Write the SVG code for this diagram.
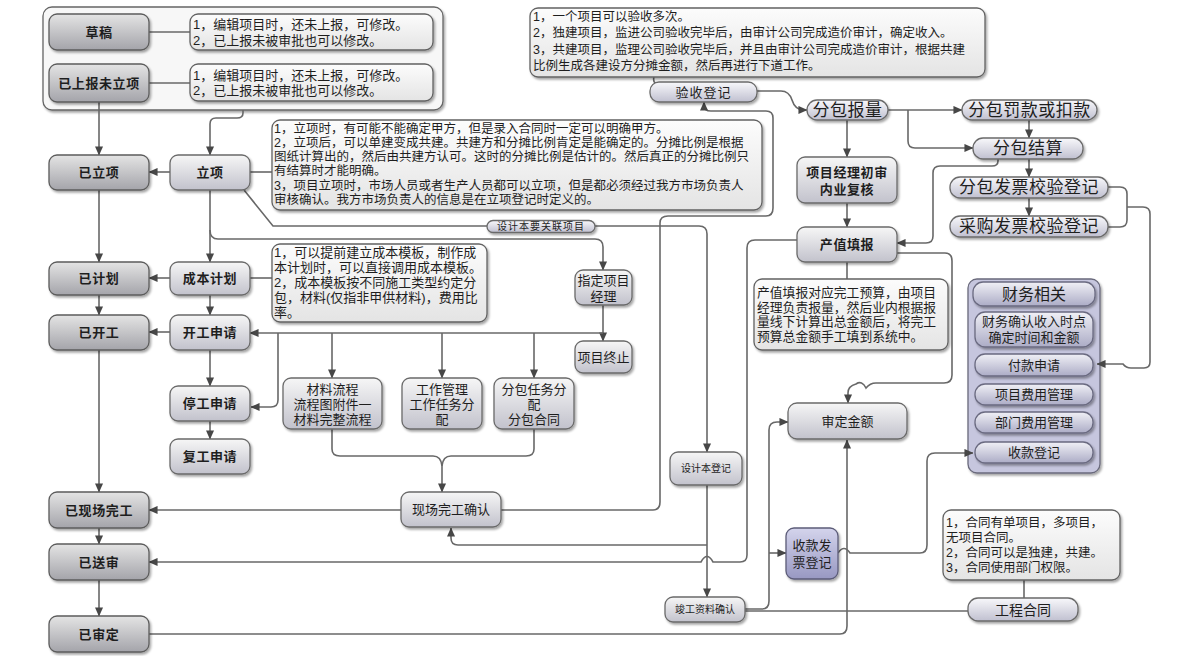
<svg xmlns="http://www.w3.org/2000/svg" width="1200" height="656" viewBox="0 0 1200 656">
<defs>
<linearGradient id="gDark" x1="0" y1="0" x2="0" y2="1"><stop offset="0" stop-color="#e4e4e4"/><stop offset="1" stop-color="#a4a4aa"/></linearGradient>
<linearGradient id="gMid" x1="0" y1="0" x2="0" y2="1"><stop offset="0" stop-color="#f6f6f6"/><stop offset="1" stop-color="#c2c2cc"/></linearGradient>
<linearGradient id="gNote" x1="0" y1="0" x2="0" y2="1"><stop offset="0" stop-color="#fcfcfc"/><stop offset="1" stop-color="#e4e4e4"/></linearGradient>
<linearGradient id="gPill" x1="0" y1="0" x2="0" y2="1"><stop offset="0" stop-color="#f8f8fb"/><stop offset="1" stop-color="#c0c0d0"/></linearGradient>
<linearGradient id="gFin" x1="0" y1="0" x2="0" y2="1"><stop offset="0" stop-color="#f0f0f6"/><stop offset="1" stop-color="#acacc6"/></linearGradient>
<linearGradient id="gBlue" x1="0" y1="0" x2="0" y2="1"><stop offset="0" stop-color="#d4d4ec"/><stop offset="1" stop-color="#9898c2"/></linearGradient>
<filter id="sh" x="-10%" y="-10%" width="130%" height="150%"><feDropShadow dx="1.5" dy="2" stdDeviation="1.2" flood-color="#000" flood-opacity="0.35"/></filter>
<marker id="ar" viewBox="0 0 10 10" refX="9.5" refY="5" markerWidth="9" markerHeight="9" markerUnits="userSpaceOnUse" orient="auto"><path d="M0,0.5 L10,5 L0,9.5 z" fill="#474747"/></marker>
</defs>
<style>
text{font-family:"Liberation Sans","Noto Sans CJK SC",sans-serif;fill:#1e1e1e}
.dk{fill:url(#gDark);stroke:#5c5c5c;stroke-width:1.3;filter:url(#sh)}
.md{fill:url(#gMid);stroke:#6a6a6a;stroke-width:1.3;filter:url(#sh)}
.nt{fill:url(#gNote);stroke:#626262;stroke-width:1.3;filter:url(#sh)}
.pl{fill:url(#gPill);stroke:#6a6a6a;stroke-width:1.3;filter:url(#sh)}
.fn{fill:url(#gFin);stroke:#6a6a80;stroke-width:1.3;filter:url(#sh)}
.bl{fill:url(#gBlue);stroke:#5c5c78;stroke-width:1.3;filter:url(#sh)}
.ct{fill:#c6c6de;stroke:#6a6a7c;stroke-width:1.3;filter:url(#sh)}
.cw{fill:#f7f7f7;stroke:#666;stroke-width:1.3;filter:url(#sh)}
.b{font-size:13px;font-weight:bold;text-anchor:middle;dominant-baseline:central;letter-spacing:0.6px}
.m{font-size:13px;text-anchor:middle;dominant-baseline:central}
.big{font-size:17px;text-anchor:middle;dominant-baseline:central;letter-spacing:0.5px}
.s{font-size:10px;text-anchor:middle;dominant-baseline:central}
.n{font-size:12.5px}
#connectors path{fill:none;stroke:#686868;stroke-width:1.6}
.a{marker-end:url(#ar)}
</style>
<rect width="1200" height="656" fill="#ffffff"/>

<g id="container-draft"><rect class="cw" x="43" y="7" width="400" height="103" rx="9"/></g>
<g id="container-finance"><rect class="ct" x="968" y="279" width="132" height="194" rx="9"/></g>

<g id="connectors">
<path d="M149,32 L190,32"/>
<path d="M149,83 L190,83"/>
<path class="a" d="M99,102 L99,155"/>
<path class="a" d="M243,110 L243,113 Q243,118 237,118 L216,118 Q210,118 210,124 L210,155"/>
<path class="a" d="M170,172 L149,172"/>
<path d="M250,172 L272,172"/>
<path class="a" d="M210,190 L210,262"/>
<path class="a" d="M210,230 Q210,239 218,239 L595,239 Q603,239 603,247 L603,270"/>
<path d="M244,190 L273,226 L487,226"/>
<path class="a" d="M595,226 L699,226 Q707,226 707,234 L707,452"/>
<path class="a" d="M99,190 L99,262"/>
<path class="a" d="M170,278 L149,278"/>
<path d="M250,278 L272,278"/>
<path class="a" d="M99,295 L99,315"/>
<path class="a" d="M210,295 L210,315"/>
<path class="a" d="M603,305 L603,341"/>
<path class="a" d="M603,333 L250,333"/>
<path class="a" d="M332,333 L332,378"/>
<path class="a" d="M442,333 L442,378"/>
<path class="a" d="M534,333 L534,378"/>
<path class="a" d="M278,333 L278,400 Q278,407 271,407 L251,407"/>
<path class="a" d="M170,332 L149,332"/>
<path class="a" d="M210,350 L210,386"/>
<path class="a" d="M210,421 L210,439"/>
<path class="a" d="M99,350 L99,492"/>
<path d="M332,429 L332,449 Q332,456 340,456 L433,456 Q441,456 442,466"/>
<path class="a" d="M534,429 L534,449 Q534,456 526,456 L451,456 Q443,456 442,466 L442,492"/>
<path class="a" d="M401,510 L149,510"/>
<path class="a" d="M501,510 L653,510 Q660,510 660,502 L660,223 Q660,216 668,216 L766,216 Q773,216 773,208 L773,118 Q773,111 766,111 L711,111 Q704,111 704,106 L704,102"/>
<path class="a" d="M707,485 L707,597"/>
<path class="a" d="M707,545 L458,545 Q451,545 451,538 L451,528"/>
<path class="a" d="M797,240 L755,240 Q747,240 747,248 L747,555 Q747,562 740,562 L713,562 Q707,551 701,562 L149,562"/>
<path class="a" d="M745,609 L762,609 Q769,609 769,601 L769,430 Q769,422 777,422 L788,422"/>
<path class="a" d="M769,553 L786,553"/>
<path d="M745,611 L968,611"/>
<path d="M1024,598 L1024,580"/>
<path class="a" d="M149,634 L840,634 Q847,634 847,626 L847,440"/>
<path class="a" d="M838,553 Q844,544 850,553 L920,553 Q927,553 927,545 L927,461 Q927,453 935,453 L973,453"/>
<path class="a" d="M897,253 L945,253 Q952,253 952,261 L952,375 Q952,383 944,383 L876,383 Q870,383 866,388 Q862,380 856,384 Q848,386 848,393 L848,403"/>
<path d="M847,262 L847,279"/>
<path class="a" d="M998,159 L998,161 Q998,166 992,166 L940,166 Q933,166 933,173 L933,236 Q933,243 926,243 L897,243"/>
<path class="a" d="M888,110 L962,110"/>
<path class="a" d="M908,110 L908,141 Q908,148 915,148 L973,148"/>
<path class="a" d="M847,120 L847,157"/>
<path class="a" d="M847,203 L847,227"/>
<path class="a" d="M1029,120 L1029,138"/>
<path class="a" d="M1029,159 L1029,177"/>
<path class="a" d="M1029,198 L1029,216"/>
<path d="M1108,187 L1120,187 Q1127,187 1127,194 L1127,220 Q1127,227 1120,227 L1108,227"/>
<path class="a" d="M1127,207 L1143,207 Q1150,207 1150,214 L1150,362 Q1150,368 1144,368 L1131,368 Q1126,368 1123,364 L1097,364"/>
<path class="a" d="M757,91 L781,91 Q789,91 792,100 Q795,110 804,110 L807,110"/>
<path d="M654,77 Q652,82 658,85"/>
<path class="a" d="M99,528 L99,544"/>
<path class="a" d="M99,580 L99,616"/>
</g>

<g id="n-caogao"><rect class="dk" x="49" y="14" width="100" height="36" rx="8"/><text class="b" x="99" y="32">草稿</text></g>
<g id="note-caogao"><rect class="nt" x="190" y="14" width="243" height="36" rx="8"/><text class="n" x="193" y="29" style="font-size:13px">1，编辑项目时，还未上报，可修改。</text><text class="n" x="193" y="45" style="font-size:13px">2，已上报未被审批也可以修改。</text></g>
<g id="n-yishangbao"><rect class="dk" x="49" y="64" width="100" height="38" rx="8"/><text class="b" x="99" y="83">已上报未立项</text></g>
<g id="note-yishangbao"><rect class="nt" x="190" y="64" width="243" height="37" rx="8"/><text class="n" x="193" y="80" style="font-size:13px">1，编辑项目时，还未上报，可修改。</text><text class="n" x="193" y="95" style="font-size:13px">2，已上报未被审批也可以修改。</text></g>

<g id="n-yilixiang"><rect class="dk" x="49" y="155" width="100" height="35" rx="8"/><text class="b" x="99" y="172.5">已立项</text></g>
<g id="n-yijihua"><rect class="dk" x="49" y="262" width="100" height="33" rx="8"/><text class="b" x="99" y="278.5">已计划</text></g>
<g id="n-yikaigong"><rect class="dk" x="49" y="315" width="100" height="35" rx="8"/><text class="b" x="99" y="332.5">已开工</text></g>
<g id="n-yixianchang"><rect class="dk" x="49" y="492" width="100" height="36" rx="8"/><text class="b" x="99" y="510">已现场完工</text></g>
<g id="n-yisongshen"><rect class="dk" x="49" y="544" width="100" height="36" rx="8"/><text class="b" x="99" y="562">已送审</text></g>
<g id="n-yishending"><rect class="dk" x="49" y="616" width="100" height="36" rx="8"/><text class="b" x="99" y="634">已审定</text></g>

<g id="n-lixiang"><rect class="md" x="170" y="155" width="80" height="35" rx="8"/><text class="b" x="210" y="172.5">立项</text></g>
<g id="n-chengben"><rect class="md" x="170" y="262" width="80" height="33" rx="8"/><text class="b" x="210" y="278.5">成本计划</text></g>
<g id="n-kaigong"><rect class="md" x="170" y="315" width="80" height="35" rx="8"/><text class="b" x="210" y="332.5">开工申请</text></g>
<g id="n-tinggong"><rect class="md" x="170" y="386" width="80" height="35" rx="8"/><text class="b" x="210" y="403.5">停工申请</text></g>
<g id="n-fugong"><rect class="md" x="170" y="439" width="80" height="35" rx="8"/><text class="b" x="210" y="456.5">复工申请</text></g>

<g id="note-lixiang"><rect class="nt" x="272" y="120" width="490" height="90" rx="8"/>
<text class="n" x="274" y="133">1，立项时，有可能不能确定甲方，但是录入合同时一定可以明确甲方。</text>
<text class="n" x="274" y="147">2，立项后，可以单建变成共建。共建方和分摊比例肯定是能确定的。分摊比例是根据</text>
<text class="n" x="274" y="161">图纸计算出的，然后由共建方认可。这时的分摊比例是估计的。然后真正的分摊比例只</text>
<text class="n" x="274" y="175">有结算时才能明确。</text>
<text class="n" x="274" y="190">3，项目立项时，市场人员或者生产人员都可以立项，但是都必须经过我方市场负责人</text>
<text class="n" x="274" y="204">审核确认。我方市场负责人的信息是在立项登记时定义的。</text></g>
<g id="n-shejiben-link"><rect class="pl" x="487" y="220.5" width="108" height="12" rx="6"/><text class="s" x="541" y="226.5" style="font-size:10px;letter-spacing:1px">设计本要关联项目</text></g>

<g id="note-chengben"><rect class="nt" x="272" y="244" width="215" height="78" rx="8"/>
<text class="n" x="274" y="257" style="font-size:13px">1，可以提前建立成本模板，制作成</text>
<text class="n" x="274" y="272" style="font-size:13px">本计划时，可以直接调用成本模板。</text>
<text class="n" x="274" y="287" style="font-size:13px">2，成本模板按不同施工类型约定分</text>
<text class="n" x="274" y="302" style="font-size:13px">包，材料(仅指非甲供材料)，费用比</text>
<text class="n" x="274" y="317" style="font-size:13px">率。</text></g>

<g id="n-zhiding"><rect class="md" x="575" y="270" width="57" height="35" rx="8"/><text class="m" x="603.5" y="280">指定项目</text><text class="m" x="603.5" y="296">经理</text></g>
<g id="n-zhongzhi"><rect class="md" x="575" y="341" width="57" height="32" rx="8"/><text class="m" x="603.5" y="357">项目终止</text></g>

<g id="n-cailiao"><rect class="md" x="283" y="378" width="99" height="51" rx="8"/><text class="m" x="332.5" y="389">材料流程</text><text class="m" x="332.5" y="404">流程图附件一</text><text class="m" x="332.5" y="419">材料完整流程</text></g>
<g id="n-gongzuo"><rect class="md" x="402" y="378" width="80" height="51" rx="8"/><text class="m" x="442" y="389">工作管理</text><text class="m" x="442" y="404">工作任务分</text><text class="m" x="442" y="419">配</text></g>
<g id="n-fenbaorenwu"><rect class="md" x="494" y="378" width="80" height="51" rx="8"/><text class="m" x="534" y="389">分包任务分</text><text class="m" x="534" y="404">配</text><text class="m" x="534" y="419">分包合同</text></g>
<g id="n-xianchangqueren"><rect class="md" x="401" y="492" width="100" height="35" rx="8"/><text class="m" x="451" y="509.5">现场完工确认</text></g>

<g id="note-yanshou"><rect class="nt" x="530" y="8" width="455" height="69" rx="8"/>
<text class="n" x="533" y="21">1，一个项目可以验收多次。</text>
<text class="n" x="533" y="37">2，独建项目，监进公司验收完毕后，由审计公司完成造价审计，确定收入。</text>
<text class="n" x="533" y="54">3，共建项目，监理公司验收完毕后，并且由审计公司完成造价审计，根据共建</text>
<text class="n" x="533" y="70">比例生成各建设方分摊金额，然后再进行下道工作。</text></g>
<g id="n-yanshou"><rect class="pl" x="650" y="82" width="107" height="20" rx="9"/><text class="m" x="703.5" y="92" style="letter-spacing:1px">验收登记</text></g>

<g id="n-shejibendengji"><rect class="md" x="670" y="452" width="72" height="33" rx="8"/><text class="s" x="706" y="468.5">设计本登记</text></g>
<g id="n-jungong"><rect class="md" x="665" y="597" width="80" height="25" rx="8"/><text class="s" x="705" y="609.5">竣工资料确认</text></g>
<g id="n-shoukuanfapiao"><rect class="bl" x="786" y="528" width="52" height="51" rx="8"/><text class="m" x="812" y="545">收款发</text><text class="m" x="812" y="562">票登记</text></g>
<g id="n-shendingjine"><rect class="md" x="788" y="403" width="119" height="36" rx="9"/><text class="m" x="847.5" y="421">审定金额</text></g>
<g id="n-gongchenghetong"><rect class="pl" x="968" y="598" width="110" height="23" rx="10"/><text class="m" x="1023" y="609.5" style="font-size:14px">工程合同</text></g>
<g id="note-hetong"><rect class="nt" x="943" y="510" width="177" height="70" rx="8"/>
<text class="n" x="946" y="527">1，合同有单项目，多项目，</text>
<text class="n" x="946" y="542">无项目合同。</text>
<text class="n" x="946" y="557">2，合同可以是独建，共建。</text>
<text class="n" x="946" y="572">3，合同使用部门权限。</text></g>

<g id="n-fenbaobaoliang"><rect class="pl" x="807" y="100" width="81" height="20" rx="10"/><text class="big" x="847.5" y="110">分包报量</text></g>
<g id="n-fakuan"><rect class="pl" x="962" y="100" width="135" height="20" rx="10"/><text class="big" x="1029.5" y="110">分包罚款或扣款</text></g>
<g id="n-jiesuan"><rect class="pl" x="973" y="138" width="110" height="21" rx="10"/><text class="big" x="1028" y="148.5">分包结算</text></g>
<g id="n-fenbaofapiao"><rect class="pl" x="950" y="177" width="158" height="21" rx="10"/><text class="big" x="1029" y="187.5">分包发票校验登记</text></g>
<g id="n-caigoufapiao"><rect class="pl" x="950" y="216" width="158" height="21" rx="10"/><text class="big" x="1029" y="226.5">采购发票校验登记</text></g>
<g id="n-chushen"><rect class="md" x="797" y="157" width="100" height="46" rx="8"/><text class="b" x="847" y="172">项目经理初审</text><text class="b" x="847" y="189">内业复核</text></g>
<g id="n-chanzhi"><rect class="md" x="797" y="227" width="100" height="35" rx="8"/><text class="b" x="847" y="244.5">产值填报</text></g>
<g id="note-chanzhi"><rect class="nt" x="754" y="279" width="194" height="71" rx="8"/>
<text class="n" x="757" y="297" style="font-size:12.8px">产值填报对应完工预算，由项目</text>
<text class="n" x="757" y="311.5" style="font-size:12.8px">经理负责报量，然后业内根据报</text>
<text class="n" x="757" y="326" style="font-size:12.8px">量线下计算出总金额后，将完工</text>
<text class="n" x="757" y="340.5" style="font-size:12.8px">预算总金额手工填到系统中。</text></g>

<g id="n-caiwu"><rect class="fn" x="973" y="282" width="122" height="24" rx="10"/><text class="m" x="1034" y="294" style="font-size:16px">财务相关</text></g>
<g id="n-querenshouru"><rect class="fn" x="975" y="312" width="118" height="35" rx="10"/><text class="m" x="1034" y="321">财务确认收入时点</text><text class="m" x="1034" y="337">确定时间和金额</text></g>
<g id="n-fukuan"><rect class="fn" x="975" y="354" width="118" height="22" rx="10"/><text class="m" x="1034" y="365">付款申请</text></g>
<g id="n-xiangmufeiyong"><rect class="fn" x="975" y="384" width="118" height="21" rx="10"/><text class="m" x="1034" y="394.5">项目费用管理</text></g>
<g id="n-bumenfeiyong"><rect class="fn" x="975" y="412" width="118" height="21" rx="10"/><text class="m" x="1034" y="422.5">部门费用管理</text></g>
<g id="n-shoukuan"><rect class="fn" x="975" y="442" width="118" height="21" rx="10"/><text class="m" x="1034" y="452.5">收款登记</text></g>
</svg>
